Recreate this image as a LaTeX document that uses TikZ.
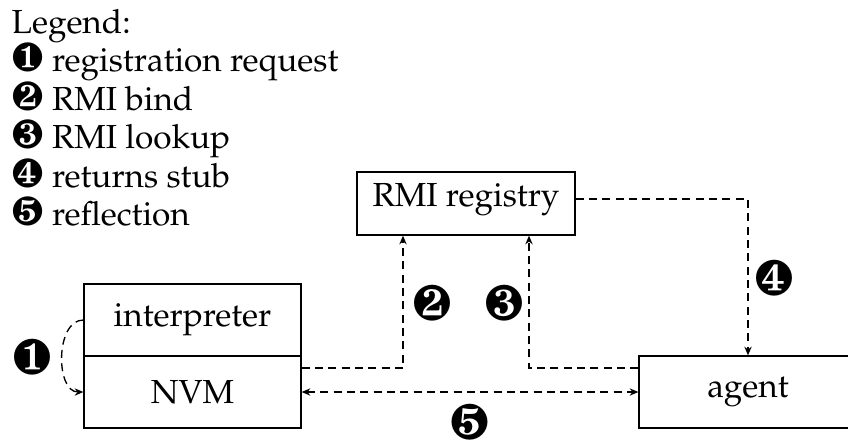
\documentclass[tikz,border=0pt]{standalone}
\usepackage[T1]{fontenc}
\usepackage{mathpazo}
\usepackage{pifont}
\usetikzlibrary{arrows.meta}

% numbered dingbats: small in the legend, larger beside the connectors
\newcommand{\legnum}[1]{{\fontsize{12.2}{12}\selectfont\ding{#1}}}
\newcommand{\stepnum}[1]{{\fontsize{15}{15}\selectfont\ding{#1}}}

\begin{document}
\begin{tikzpicture}[x=0.3pt,y=-0.3pt,
  font=\fontsize{10}{12}\selectfont,
  box/.style={draw, line width=0.4pt, inner sep=0pt,
    minimum width=65.1pt, minimum height=21.6pt},
  conn/.style={line width=0.4pt, dash pattern=on 2.4pt off 1.6pt,
    -{Stealth[length=2.6pt,width=2.2pt]}},
  legline/.style={anchor=base west, inner sep=0pt},
  num/.style={inner sep=0pt}]

\useasboundingbox (0,0) rectangle (848,439);

% legend
\node[legline] (lg0) at (11,33)    {Legend:};
\node[legline] (lg1) at (11,71.5)  {\legnum{182} registration request};
\node[legline] (lg2) at (11,110)   {\legnum{183} RMI bind};
\node[legline] (lg3) at (11,148.5) {\legnum{184} RMI lookup};
\node[legline] (lg4) at (11,187)   {\legnum{185} returns stub};
\node[legline] (lg5) at (11,225.5) {\legnum{186} reflection};

% components
\node[box] (interp) at (192.5,320) {interpreter};
\node[box] (nvm)    at (192.5,392) {NVM};
\node[box, minimum width=65.4pt, minimum height=0pt,
      text height=10.2pt, text depth=8.7pt] (reg) at (466,203.5) {RMI registry};
\node[box, minimum width=65.4pt] (agent) at (748,392) {agent};

% interactions
\draw[conn] (interp.west) to[out=180,in=180] (nvm.west);
\draw[conn] ([yshift=7.2pt]nvm.east) -| ([xshift=-18.9pt]reg.south);
\draw[conn] ([yshift=7.2pt]agent.west) -| ([xshift=18.9pt]reg.south);
\draw[conn] ([yshift=1.35pt]reg.east) -| (agent.north);
\draw[conn, {Stealth[length=2.6pt,width=2.2pt]}-{Stealth[length=2.6pt,width=2.2pt]}]
  (nvm.east) -- (agent.west);

% step numbers
\node[num] (n1) at (32,357)    {\stepnum{182}};
\node[num] (n2) at (432,303)   {\stepnum{183}};
\node[num] (n3) at (504,303)   {\stepnum{184}};
\node[num] (n4) at (774,278)   {\stepnum{185}};
\node[num] (n5) at (469.5,422) {\stepnum{186}};
\end{tikzpicture}
\end{document}
